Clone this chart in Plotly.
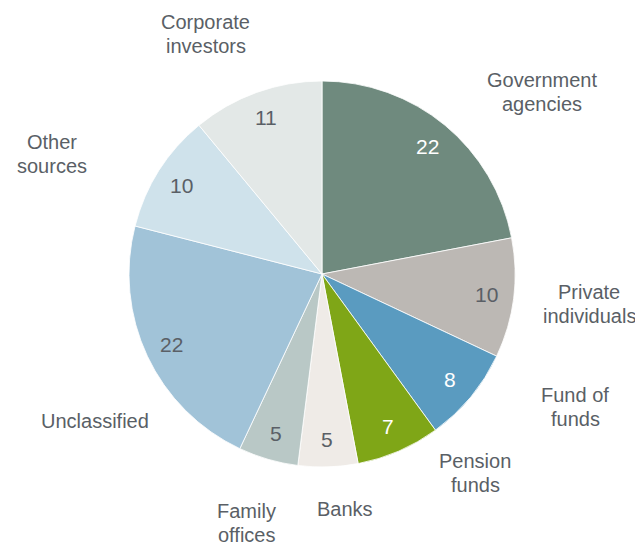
import numpy as np
import plotly.graph_objects as go

# investor types, clockwise from 12 o'clock
labels = ['Government<br>agencies', 'Private<br>individuals', 'Fund of<br>funds', 'Pension<br>funds',
          'Banks', 'Family<br>offices', 'Unclassified', 'Other<br>sources', 'Corporate<br>investors']
values = [22, 10, 8, 7, 5, 5, 22, 10, 11]
colors = ['#6f8a7e', '#bcb8b4', '#5a9bc0', '#7fa617', '#efebe7',
          '#b9c8c6', '#a1c3d8', '#cfe2eb', '#e3e8e7']
value_colors = ['white', '#5a5f66', 'white', 'white', '#5a5f66',
                '#5a5f66', '#5a5f66', '#5a5f66', '#5a5f66']

# where each category label sits, in px from the pie centre (layout only)
label_offsets = [(220, -182), (267, 30), (253, 133), (153, 199), (23, 235),
                 (-76, 249), (-227, 147), (-270, -120), (-116, -240)]

W, H = 643, 546
# the page adds an 8px body margin, so work in figure coordinates
cx, cy, R = 314, 266, 193
LINE = 24

fig = go.Figure(go.Pie(
    labels=[l.replace('<br>', ' ') for l in labels],
    values=values,
    sort=False,
    direction='clockwise',
    rotation=0,
    marker=dict(colors=colors, line=dict(color='white', width=0.8)),
    textinfo='none',
    hoverinfo='label+value',
    domain=dict(x=[(cx - R) / W, (cx + R) / W], y=[(H - cy - R) / H, (H - cy + R) / H]),
))

# angle of each slice middle, clockwise from top
vals = np.array(values, dtype=float)
mids = (np.cumsum(vals) - vals / 2) / vals.sum() * 2 * np.pi


def px_to_paper(x, y):
    return x / W, (H - y) / H


annotations = []
for lab, ang, v, vc, (ox, oy) in zip(labels, mids, values, value_colors, label_offsets):
    # value inside the slice
    d = 0.86 * R
    x, y = px_to_paper(cx + d * np.sin(ang), cy - d * np.cos(ang))
    annotations.append(dict(
        x=x, y=y, xref='paper', yref='paper', text=str(v), showarrow=False,
        xanchor='center', yanchor='middle',
        font=dict(size=21, color=vc)))
    # category label outside, one annotation per line for tighter spacing
    lines = lab.split('<br>')
    n = len(lines)
    for i, line in enumerate(lines):
        x, y = px_to_paper(cx + ox, cy + oy + (i - (n - 1) / 2) * LINE)
        annotations.append(dict(
            x=x, y=y, xref='paper', yref='paper', text=line, showarrow=False,
            xanchor='center', yanchor='middle',
            font=dict(size=20, color='#5a5f66')))

fig.update_layout(
    width=W, height=H,
    margin=dict(l=0, r=0, t=0, b=0),
    paper_bgcolor='white',
    showlegend=False,
    font=dict(family='Liberation Sans, Arial, sans-serif'),
    annotations=annotations,
)
fig.write_html('out.html')
